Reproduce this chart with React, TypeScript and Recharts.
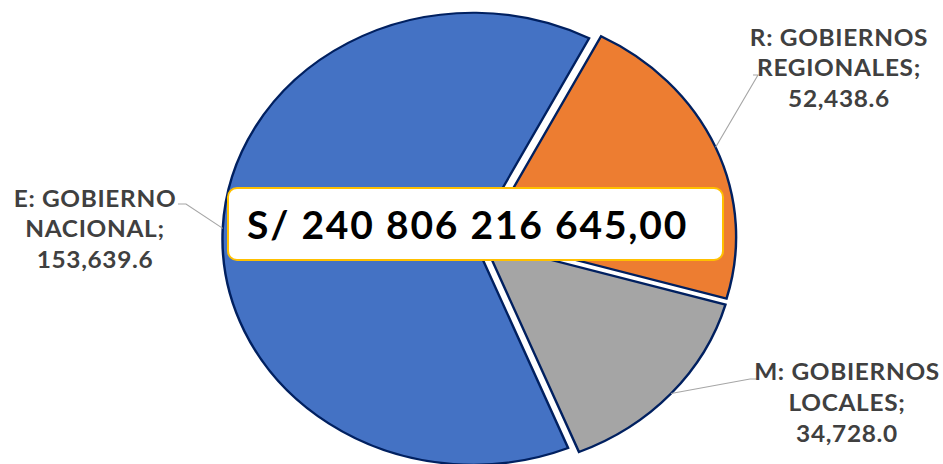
import { Cell, Pie, PieChart } from "recharts";

const categories = ["E: GOBIERNO NACIONAL", "R: GOBIERNOS REGIONALES", "M: GOBIERNOS LOCALES"];
const values = [153639.6, 52438.6, 34728.0];
const colors = ["#4472C4", "#ED7D31", "#A5A5A5"];
const totalLabel = "S/ 240 806 216 645,00";

// label placement in page pixels (Excel puts these by hand)
const labelSpots = [
  { tx: 95, y0: 207, lh: 30.5, elbow: [186, 204], end: [178, 204] },
  { tx: 839, y0: 46, lh: 30.5, elbow: [758, 75], end: [753, 75] },
  { tx: 847, y0: 380, lh: 31, elbow: [750, 379], end: [757, 379] },
];

const W = 943;
const H = 464;
const K = 1.11; // the pie is an ellipse, stretched horizontally
const CX = 474 / K;
const CY = 234;
const R = 226;
const EXPLODE = 5.6;
const START = 292.2;

const data = categories.map((name, i) => ({ name, value: values[i] }));

const total = values.reduce((a, b) => a + b, 0);
let acc = 0;
const mids = values.map((v) => {
  const a0 = START - (acc / total) * 360;
  acc += v;
  const a1 = START - (acc / total) * 360;
  return (a0 + a1) / 2;
});

const fmt = (v: number) =>
  v.toLocaleString("en-US", { minimumFractionDigits: 1, maximumFractionDigits: 1 });

function makeLabel(slice: number) {
  return (props: any) => {
    if (props.index !== slice) return null;
    const { cx, cy, midAngle, outerRadius, name, value } = props;
    const rad = (Math.PI / 180) * midAngle;
    const x0 = cx + outerRadius * Math.cos(rad);
    const y0 = cy - outerRadius * Math.sin(rad);
    const s = labelSpots[slice];
    const words = String(name).split(" ");
    const lines = [words.slice(0, 2).join(" "), words.slice(2).join(" ") + ";", fmt(value)];
    return (
      <g>
        <polyline
          points={`${x0},${y0} ${s.elbow[0] / K},${s.elbow[1]} ${s.end[0] / K},${s.end[1]}`}
          fill="none"
          stroke="#A6A6A6"
          strokeWidth={1}
        />
        {lines.map((t, j) => (
          <text
            key={j}
            x={s.tx / K}
            y={s.y0 + j * s.lh}
            textAnchor="middle"
            fill="#404040"
            fontFamily="Lato, sans-serif"
            fontWeight="bold"
            fontSize={22}
            letterSpacing={0.6}
          >
            {t}
          </text>
        ))}
      </g>
    );
  };
}

export default function App() {
  return (
    <div
      style={{
        position: "fixed",
        left: 0,
        top: 0,
        width: W,
        height: H,
        background: "#fff",
        overflow: "hidden",
      }}
    >
      <div
        style={{
          position: "absolute",
          left: 0,
          top: 0,
          width: W / K,
          height: H,
          transform: `scaleX(${K})`,
          transformOrigin: "0 0",
        }}
      >
        <PieChart width={W / K} height={H}>
          {mids.map((mid, i) => {
            const rad = (Math.PI / 180) * mid;
            return (
              <Pie
                key={i}
                data={data}
                dataKey="value"
                nameKey="name"
                cx={CX + EXPLODE * Math.cos(rad)}
                cy={CY - EXPLODE * Math.sin(rad)}
                outerRadius={R}
                startAngle={START}
                endAngle={START - 360}
                isAnimationActive={false}
                labelLine={false}
                label={makeLabel(i)}
              >
                {data.map((d, j) => (
                  <Cell
                    key={d.name}
                    fill={j === i ? colors[j] : "none"}
                    stroke={j === i ? "#002060" : "none"}
                    strokeWidth={2.2}
                  />
                ))}
              </Pie>
            );
          })}
        </PieChart>
      </div>
      <div
        style={{
          position: "absolute",
          left: 227,
          top: 187,
          width: 497,
          height: 74,
          boxSizing: "border-box",
          border: "2px solid #FFC000",
          borderRadius: 10,
          background: "#fff",
          display: "flex",
          alignItems: "center",
          paddingLeft: 18,
          fontFamily: "Lato, sans-serif",
          fontWeight: "bold",
          fontSize: 39,
          letterSpacing: 1.8,
          color: "#000",
        }}
      >
        {totalLabel}
      </div>
    </div>
  );
}
